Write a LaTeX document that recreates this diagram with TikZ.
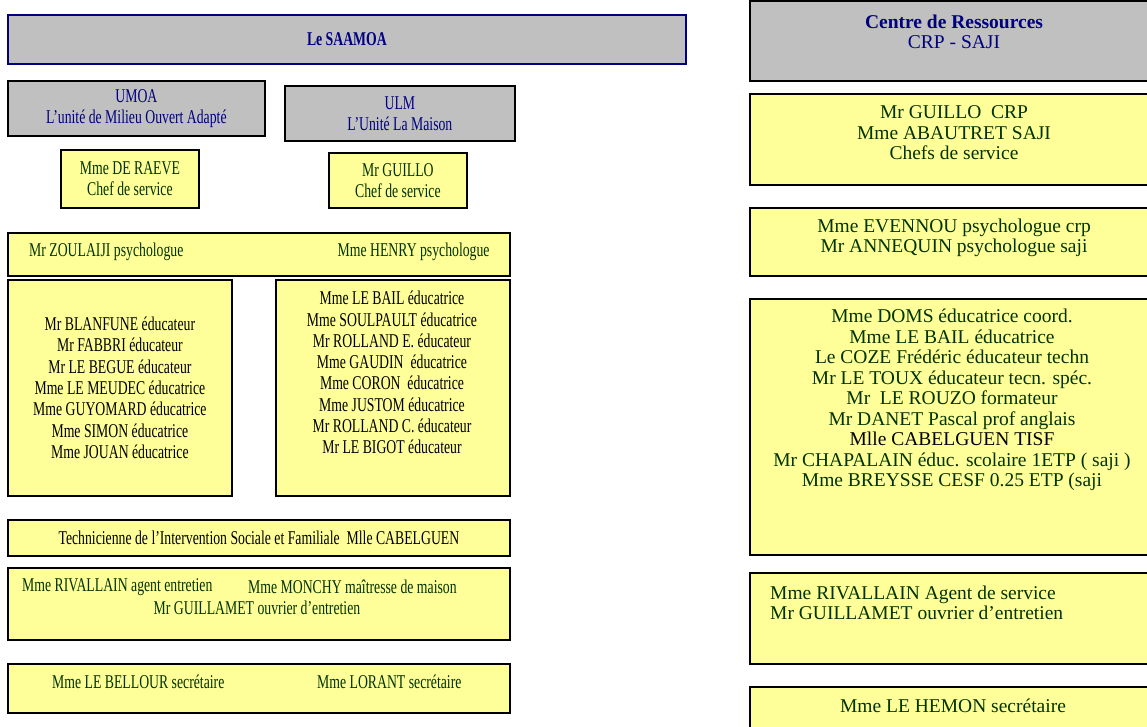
\documentclass[tikz,border=0pt]{standalone}
\usepackage{fontspec}
\setmainfont{Liberation Serif}
\newfontfamily\narrowrm[FakeStretch=0.705]{Liberation Serif}
\usepackage{tikz}
\usetikzlibrary{positioning}
\definecolor{navy}{RGB}{0,0,128}
\definecolor{dkgreen}{RGB}{0,51,0}
\definecolor{boxgrey}{RGB}{192,192,192}
\definecolor{boxyellow}{RGB}{255,255,153}

\begin{document}
\begin{tikzpicture}[x=1pt,y=-1pt,
   box/.style={draw=black,line width=1.8pt,anchor=north west,inner sep=0pt,align=center},
   unit/.style={box,fill=boxgrey,text=navy},
   staff/.style={box,fill=boxyellow,text=dkgreen},
   lft/.style={font=\narrowrm\fontsize{19.5}{21.3}\selectfont},
   rgt/.style={font=\fontsize{19.5}{20.5}\selectfont},
   txt/.style={inner sep=0pt,align=center}]
   \useasboundingbox (0,0) rectangle (1147,727);
   \clip (0,0) rectangle (1147,727);
   % SAAMOA
   \node[unit,lft,draw=navy,minimum width=678,minimum height=49] (saamoa) at (7,14) {\textbf{Le SAAMOA}};
   \node[unit,lft,minimum width=257,minimum height=55] (umoa) at (7,80) {UMOA\\L’unité de Milieu Ouvert Adapté};
   \node[unit,lft,minimum width=230,minimum height=55] (ulm) at (284,85) {ULM\\L’Unité La Maison};
   \node[staff,lft,minimum width=138,minimum height=58] (raeve) at (60,149) {Mme DE RAEVE\\Chef de service};
   \node[staff,lft,minimum width=138,minimum height=55] (guillo) at (328,152) {Mr GUILLO\\Chef de service};
   \node[staff,minimum width=502,minimum height=43] (psy) at (7,232) {};
   \node[txt,lft,text=dkgreen,right=22pt of psy.west,yshift=3pt] (zoulaiji) {Mr ZOULAIJI psychologue};
   \node[txt,lft,text=dkgreen,left=21pt of psy.east,yshift=3pt] (henry) {Mme HENRY psychologue};
   \node[staff,lft,text=black,minimum width=224,minimum height=216] (educL) at (7,279) {Mr BLANFUNE éducateur\\Mr FABBRI éducateur\\Mr LE BEGUE éducateur\\Mme LE MEUDEC éducatrice\\Mme GUYOMARD éducatrice\\Mme SIMON éducatrice\\Mme JOUAN éducatrice};
   \node[staff,minimum width=234,minimum height=216] (educR) at (275,279) {};
   \node[txt,lft,anchor=north] (educRT) at (392,291) {Mme LE BAIL éducatrice\\Mme SOULPAULT éducatrice\\Mr ROLLAND E. éducateur\\Mme GAUDIN\ \ éducatrice\\Mme CORON\ \ éducatrice\\Mme JUSTOM éducatrice\\Mr ROLLAND C. éducateur\\Mr LE BIGOT éducateur};
   \node[staff,lft,text=black,minimum width=502,minimum height=36] (tisf) at (7,519) {Technicienne de l’Intervention Sociale et Familiale\ \ Mlle CABELGUEN};
   \node[staff,minimum width=502,minimum height=72] (menage) at (7,567) {};
   \node[txt,lft,text=dkgreen,anchor=west] (rivallain) at (22,587) {Mme RIVALLAIN agent entretien};
   \node[txt,lft,text=dkgreen,anchor=west] (monchy) at (248,587) {Mme MONCHY maîtresse de maison};
   \node[txt,lft,text=dkgreen] (guillamet) at (257,608) {Mr GUILLAMET ouvrier d’entretien};
   \node[staff,minimum width=502,minimum height=49] (secr) at (7,663) {};
   \node[txt,lft,text=dkgreen,anchor=west] (bellour) at (52,682) {Mme LE BELLOUR secrétaire};
   \node[txt,lft,text=dkgreen,anchor=west] (lorant) at (317,682) {Mme LORANT secrétaire};
   % Centre de Ressources
   \node[unit,minimum width=411,minimum height=80] (crp) at (749,0) {};
   \node[txt,rgt,text=navy] (crpT) at (954,32) {\textbf{Centre de Ressources}\\CRP - SAJI};
   \node[staff,minimum width=411,minimum height=91] (chefs) at (749,93) {};
   \node[txt,rgt,text=dkgreen] (chefsT) at (954,133) {Mr GUILLO\ \ CRP\\Mme ABAUTRET SAJI\\Chefs de service};
   \node[staff,minimum width=411,minimum height=68] (psyR) at (749,207) {};
   \node[txt,rgt,text=dkgreen] (psyRT) at (954,238) {Mme EVENNOU psychologue crp\\Mr ANNEQUIN psychologue saji};
   \node[staff,minimum width=411,minimum height=256] (doms) at (749,298) {};
   \node[txt,rgt,text=dkgreen] (domsT) at (952,400) {Mme DOMS éducatrice coord.\\Mme LE BAIL éducatrice\\Le COZE Frédéric éducateur techn\\Mr LE TOUX éducateur tecn. spéc.\\Mr\ \ LE ROUZO formateur\\Mr DANET Pascal prof anglais\\\textcolor{black}{Mlle CABELGUEN TISF}\\Mr CHAPALAIN éduc. scolaire 1ETP ( saji )\\Mme BREYSSE CESF 0.25 ETP (saji};
   \node[staff,minimum width=411,minimum height=91] (agents) at (749,572) {};
   \node[txt,rgt,text=dkgreen,align=left,anchor=west] (agentsT) at (770,603) {Mme RIVALLAIN Agent de service\\Mr GUILLAMET ouvrier d’entretien};
   \node[staff,minimum width=411,minimum height=60] (hemon) at (749,686) {};
   \node[txt,rgt,text=dkgreen] (hemonT) at (953,706) {Mme LE HEMON secrétaire};
\end{tikzpicture}
\end{document}
